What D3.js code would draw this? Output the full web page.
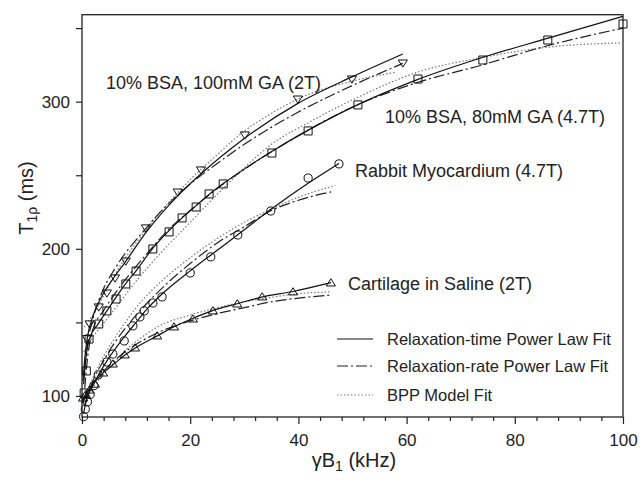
<!DOCTYPE html>
<html lang="en">
<head>
  <meta charset="UTF-8">
  <title>T1rho dispersion</title>
  <script src="https://d3js.org/d3.v7.min.js"></script>
  <style>
    body { margin: 0; background: #fff; font-family: 'Liberation Sans', Arial, sans-serif; }
  </style>
</head>
<body>
  <div class="chart"></div>
  <script>
    // measured points [kHz, ms]
    const bsa100Pts = [[0.9,139],[1.4,149],[3.1,160.5],[4.6,170],[6.1,180.2],[8.1,191.7],[11.8,214.2],[17.7,238.6],[22.0,253.6],[30.1,277.4],[39.9,301.8],[49.9,315.4],[59.3,326.3]];
    const bsa80Pts = [[0.4,102],[0.8,117],[1.3,138.7],[3.1,148.9],[4.6,157.8],[6.3,165.9],[8.1,176.1],[10.0,184.9],[13.1,199.9],[16.1,211.5],[18.5,221.0],[21.1,228.4],[23.5,237.3],[26.1,244.1],[35.1,265.1],[41.8,280.1],[51.0,297.8],[62.1,315.4],[74.1,328.3],[86.1,341.9],[100,352.8]];
    const rabbitPts = [[0.3,86],[0.6,91],[1.0,96],[1.5,101],[2.2,107],[3.0,114.3],[4.6,123.1],[5.7,128.5],[7.8,137.4],[9.4,147.6],[10.7,153.7],[11.5,157.8],[13.1,163.2],[14.8,167.3],[20.0,183.6],[23.8,194.5],[28.8,209.4],[34.9,225.7],[41.8,248.1],[47.5,257.7]];
    const cartilagePts = [[0.2,98.6],[0.7,101],[1.4,104],[2.4,108],[3.9,115.6],[5.7,121.7],[7.9,127.9],[9.8,132.6],[13.9,140.8],[17.0,146.9],[20.5,152.3],[24.2,157.8],[28.7,162.5],[33.3,167.3],[39.0,170.7],[46.0,176.8]];

    // fitted curves
    const bsa100Time = [[0.2,110],[0.5,125],[1,140],[2,154],[3,163],[4,170],[6,181],[8,191],[11.8,211],[17.7,236],[22,251],[30,275],[40,299],[50,317],[59.3,332.4]];
    const bsa100Rate = [[0.5,118],[1,135],[2,152],[4,173],[6,186],[8,197],[10,206],[15,227],[20,244],[25,258],[30,271],[40,293],[50,311],[59.3,326]];
    const bsa100Bpp = [[0,145],[2,155],[4,168],[6,182],[10,204],[15,227],[20,247],[25,264],[30,280],[35,292],[40,302],[50,314],[58,320]];

    const bsa80Time = [[0.3,108],[0.7,125],[1.3,138],[3,149],[5,160],[8,176],[10,185],[13,200],[16,212],[18.5,221],[21,229],[23.5,237],[26,244],[35,266],[42,281],[51,298],[62,315],[74,330],[86,343],[100,358]];
    const bsa80Rate = [[0.5,105],[1,125],[2,145],[4,158],[6,169],[8,179],[10,188],[13,201],[16,213],[20,226],[25,241],[30,254],[40,277],[51,298],[62,313],[74,325],[86,338],[100,350]];
    const bsa80Bpp = [[0,128],[2,140],[5,154],[10,178],[15,199],[20,218],[25,237],[30,255],[35,271],[42,286],[51,303],[62,320],[74,330],[86,337],[100,340]];

    const rabbitTime = [[0.3,88],[0.5,92],[1,99],[2,107],[3,114],[5,126],[8,141],[10,150],[12,159],[15,170],[20,185],[25,199],[30,213],[35,227],[42,245],[47.5,258]];
    const rabbitRate = [[0.5,94],[1,100],[2,110],[4,124],[6,136],[8,146],[10,155],[12,163],[15,174],[20,190],[25,204],[30,215],[35,226],[40,233],[46.4,239]];
    const rabbitBpp = [[0,95],[2,112],[4,127],[6,139],[8,150],[10,160],[15,179],[20,194],[25,207],[30,218],[35,227],[40,235],[46.8,243]];

    const cartTime = [[0,97],[1,103],[2,108],[4,116],[6,122],[8,128],[10,133],[14,141],[17,147],[20,152],[24,157.8],[29,163],[33,167],[39,171],[46,177]];
    const cartRate = [[0,95],[2,108],[4,117],[6,124],[8,130],[10,135],[14,143],[20,151],[25,156],[30,160],[35,164],[40,166.5],[46,168.6]];
    const cartBpp = [[0,98],[2,106],[4,115],[6,123],[8,131],[10,137],[14,147],[20,155],[25,160],[30,164],[35,167],[40,169.5],[46,170.7]];

    const xMajor = [0, 20, 40, 60, 80, 100];
    const yMajor = [100, 200, 300];
    const legendLabels = ['Relaxation-time Power Law Fit', 'Relaxation-rate Power Law Fit', 'BPP Model Fit'];

    const W = 640, H = 484;
    const ink = '#222';
    const font = "'Liberation Sans', Arial, sans-serif";

    const svg = d3.select('.chart').append('svg').attr('width', W).attr('height', H);

    const x = d3.scaleLinear().domain([0, 100]).range([82, 623]);
    const y = d3.scaleLinear().domain([85.7, 359.1]).range([417, 14.7]);

    // frame
    svg.append('rect').attr('x', 82).attr('y', 14.7).attr('width', 541).attr('height', 402.3)
      .attr('fill', 'none').attr('stroke', ink).attr('stroke-width', 1.3);

    // axes
    svg.append('g').attr('transform', 'translate(0,417)')
      .call(d3.axisBottom(x).tickValues(xMajor).tickSize(7).tickPadding(10).tickFormat(d3.format('d')));
    svg.append('g').attr('transform', 'translate(0,417)')
      .call(d3.axisBottom(x).tickValues(d3.range(4, 100, 4).filter(v => v % 20)).tickSize(4).tickFormat(''));
    svg.append('g').attr('transform', 'translate(82,0)')
      .call(d3.axisLeft(y).tickValues(yMajor).tickSize(6).tickPadding(6).tickFormat(d3.format('d')));
    svg.append('g').attr('transform', 'translate(82,0)')
      .call(d3.axisLeft(y).tickValues([150, 250, 350]).tickSize(6).tickFormat(''));

    svg.selectAll('.domain').remove();
    svg.selectAll('.tick line').attr('stroke', ink).attr('stroke-width', 1.2);
    svg.selectAll('.tick text').attr('font-family', font).attr('font-size', 17).attr('fill', ink);

    // axis titles
    const xt = svg.append('text').attr('x', 354).attr('y', 467).attr('text-anchor', 'middle')
      .attr('font-family', font).attr('font-size', 20).attr('fill', ink);
    xt.append('tspan').text('γB');
    xt.append('tspan').attr('font-size', 14).attr('dy', 4).text('1');
    xt.append('tspan').attr('dy', -4).text(' (kHz)');

    const yt = svg.append('text').attr('transform', 'translate(33,198) rotate(-90)').attr('text-anchor', 'middle')
      .attr('font-family', font).attr('font-size', 20).attr('fill', ink);
    yt.append('tspan').text('T');
    yt.append('tspan').attr('font-size', 14).attr('dy', 4).text('1ρ');
    yt.append('tspan').attr('dy', -4).text(' (ms)');

    // fit lines
    const line = d3.line().x(d => x(d[0])).y(d => y(d[1])).curve(d3.curveMonotoneX);
    const styles = {
      time: { stroke: '#111', dash: null, width: 1.2 },
      rate: { stroke: '#222', dash: '11,3,2,3', width: 1.2 },
      bpp:  { stroke: '#777', dash: '1.5,2', width: 1.2 }
    };
    const fits = [
      [bsa100Bpp, 'bpp'], [bsa80Bpp, 'bpp'], [rabbitBpp, 'bpp'], [cartBpp, 'bpp'],
      [bsa100Rate, 'rate'], [bsa80Rate, 'rate'], [rabbitRate, 'rate'], [cartRate, 'rate'],
      [bsa100Time, 'time'], [bsa80Time, 'time'], [rabbitTime, 'time'], [cartTime, 'time']
    ];
    fits.forEach(([pts, k]) => {
      svg.append('path').datum(pts).attr('d', line).attr('fill', 'none')
        .attr('stroke', styles[k].stroke).attr('stroke-width', styles[k].width)
        .attr('stroke-dasharray', styles[k].dash);
    });

    // markers
    const tri = (up) => up ? 'M0,-4.2L4.6,3L-4.6,3Z' : 'M0,4.2L4.6,-3L-4.6,-3Z';
    const shapes = {
      down: tri(false),
      up: tri(true),
      square: 'M-4,-4H4V4H-4Z',
      circle: d3.symbol(d3.symbolCircle, 52)()
    };
    [[bsa100Pts, 'down'], [bsa80Pts, 'square'], [rabbitPts, 'circle'], [cartilagePts, 'up']].forEach(([pts, s]) => {
      svg.append('g').selectAll('path').data(pts).join('path')
        .attr('transform', d => `translate(${x(d[0])},${y(d[1])})`)
        .attr('d', shapes[s]).attr('fill', 'none').attr('stroke', '#111').attr('stroke-width', 1);
    });

    // series labels
    const labels = [
      ['10% BSA, 100mM GA (2T)', 106, 89],
      ['10% BSA, 80mM GA (4.7T)', 385, 123],
      ['Rabbit Myocardium (4.7T)', 355, 177],
      ['Cartilage in Saline (2T)', 348, 290]
    ];
    svg.selectAll('.lab').data(labels).join('text').attr('class', 'lab')
      .attr('x', d => d[1]).attr('y', d => d[2]).attr('font-family', font).attr('font-size', 18)
      .attr('fill', ink).text(d => d[0]);

    // legend
    const legKeys = ['time', 'rate', 'bpp'];
    const legY = [339, 366, 395];
    legendLabels.forEach((t, i) => {
      const st = styles[legKeys[i]];
      svg.append('line').attr('x1', 337).attr('x2', 373).attr('y1', legY[i]).attr('y2', legY[i])
        .attr('stroke', st.stroke).attr('stroke-width', st.width).attr('stroke-dasharray', st.dash);
      svg.append('text').attr('x', 387).attr('y', legY[i] + 6).attr('font-family', font)
        .attr('font-size', 16.5).attr('fill', ink).text(t);
    });
  </script>
</body>
</html>
